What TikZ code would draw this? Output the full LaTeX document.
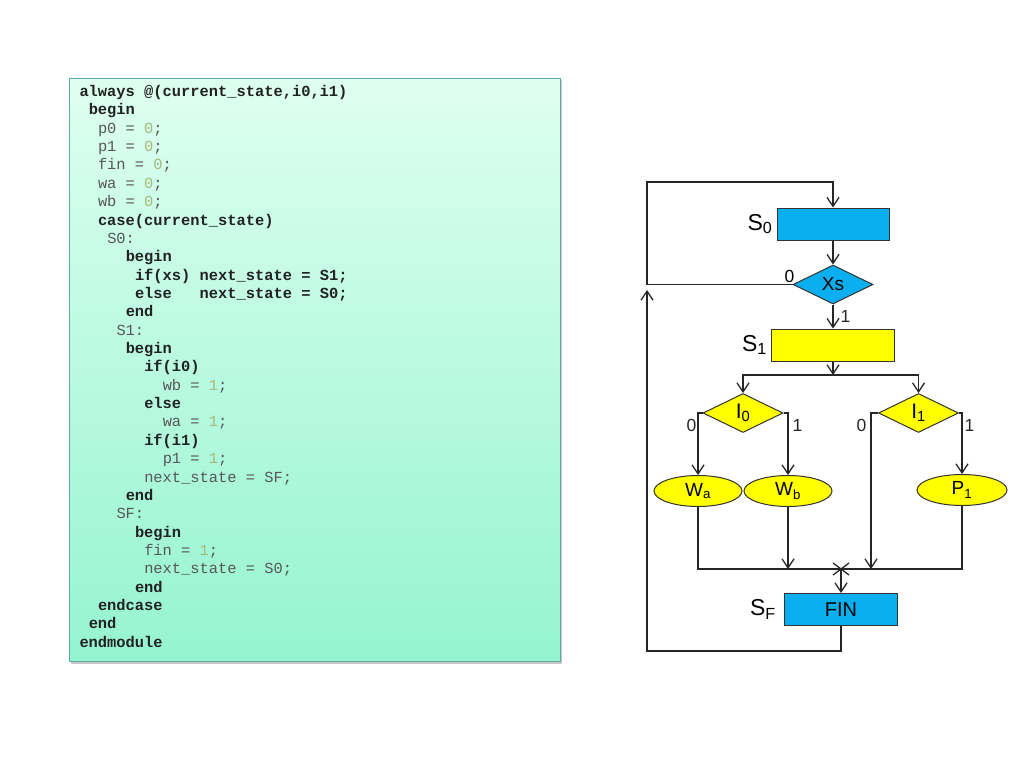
\documentclass[tikz,border=0pt]{standalone}
\usepackage{fontspec}
\setmainfont{Liberation Sans}
\newfontfamily\codefont{Liberation Mono}
\usepackage{xcolor}
\usetikzlibrary{positioning, arrows.meta, shapes.geometric}

\definecolor{stblue}{HTML}{0BAFF0}
\definecolor{styellow}{HTML}{FFFF00}
\definecolor{codetop}{HTML}{DEFFF1}
\definecolor{codebot}{HTML}{95F4D2}
\definecolor{codeedge}{HTML}{5FAAA2}
\definecolor{codegray}{HTML}{575757}
\definecolor{kwcol}{HTML}{222222}
\definecolor{numcol}{HTML}{A7B978}

\newcommand\kw[1]{{\bfseries\color{kwcol}#1}}
\newcommand\nm[1]{\textcolor{numcol}{#1}}

\begin{document}
\begin{tikzpicture}[x=1pt, y=-1pt,
    codeline/.style={anchor=base west, inner sep=0pt, text=codegray,
        font=\codefont\fontsize{15.4}{18}\selectfont},
    stbox/.style={draw=black!80, line width=1pt, minimum height=32pt, inner sep=0pt},
    decis/.style={diamond, draw=black!80, line width=1pt, fill=#1, aspect=2,
        minimum width=80pt, minimum height=39pt, inner sep=0pt},
    oval/.style={ellipse, draw=black!80, line width=1pt, fill=styellow,
        minimum height=31pt, inner sep=0pt, font=\fontsize{19}{21}\selectfont},
    stlab/.style={anchor=east, inner sep=0pt, font=\fontsize{23}{25}\selectfont},
    bit/.style={inner sep=0pt, font=\fontsize{17.5}{19}\selectfont},
    flow/.style={line width=1.3pt, black!85},
    arr/.style={flow, -{Straight Barb[length=9pt, width=12pt]}}]
    \useasboundingbox[fill=white] (0,0) rectangle (1024,768);

    % code panel
    \fill[black!22] (71,80) rectangle (562,664);
    \shade[top color=codetop, bottom color=codebot, draw=codeedge, line width=1pt]
        (69,78) rectangle (560,661);
    \foreach \c/\t [count=\i] in {
        0/{\kw{always @(current\_state,i0,i1)}}, 1/\kw{begin},
        2/{p0 = \nm{0};}, 2/{p1 = \nm{0};}, 2/{fin = \nm{0};},
        2/{wa = \nm{0};}, 2/{wb = \nm{0};}, 2/\kw{case(current\_state)},
        3/S0:, 5/\kw{begin},
        6/{\kw{if(xs) next\_state = S1;}}, 6/{\kw{else\ \ \ next\_state = S0;}},
        5/\kw{end}, 4/S1:, 5/\kw{begin},
        7/\kw{if(i0)}, 9/{wb = \nm{1};}, 7/\kw{else}, 9/{wa = \nm{1};},
        7/\kw{if(i1)}, 9/{p1 = \nm{1};}, 7/{next\_state = SF;},
        5/\kw{end}, 4/SF:, 6/\kw{begin},
        7/{fin = \nm{1};}, 7/{next\_state = S0;}, 6/\kw{end},
        2/\kw{endcase}, 1/\kw{end}, 0/\kw{endmodule}}
        \node[codeline] (ln\i) at ({79.3+\c*9.25}, {96.5+(\i-1)*18.36}) {\t};

    % flow chart
    \node[stbox, fill=stblue, minimum width=112pt] (s0) at (833,224) {};
    \node[decis=stblue, font=\fontsize{19}{21}\selectfont] (xs) at (833,284.5) {Xs};
    \node[stbox, fill=styellow, minimum width=123pt] (s1) at (833,345) {};
    \node[decis=styellow, font=\fontsize{21}{23}\selectfont] (i0) at (743,413) {I\textsubscript{0}};
    \node[decis=styellow, font=\fontsize{21}{23}\selectfont] (i1) at (918.5,413) {I\textsubscript{1}};
    \node[oval, minimum width=88pt] (wa) at (698,491) {W\textsubscript{a}};
    \node[oval, minimum width=88pt] (wb) at (788,491) {W\textsubscript{b}};
    \node[oval, minimum width=90pt] (p1) at (962,490) {P\textsubscript{1}};
    \node[stbox, fill=stblue, minimum width=113pt, font=\fontsize{20}{22}\selectfont]
        (fin) at (841,609.5) {FIN};

    \node[stlab] (s0lab) at ([xshift=-4pt]s0.west) {S\textsubscript{0}};
    \node[stlab] (s1lab) at ([xshift=-4pt]s1.west) {S\textsubscript{1}};
    \node[stlab] (sflab) at ([xshift=-8pt]fin.west) {S\textsubscript{F}};

    \coordinate (ltop) at (647,182);
    \coordinate (jn) at (833,375);
    \coordinate (jb) at (871,569);
    \coordinate (mg) at (841,569);
    \coordinate (lbot) at (647,651);
    \coordinate (lret) at (647,290);

    \draw[arr] (s0.south) -- (xs.north);
    \draw[arr] (xs.west) -| (ltop) -| (s0.north);
    \node[bit, anchor=south east] at ([xshift=2pt, yshift=1.5pt]xs.west) {0};
    \draw[arr] (xs.south) -- node[bit, right=7pt] {1} (s1.north);
    \draw[arr] (s1.south) -- (jn);
    \draw[arr] (jn) -| (i0.north);
    \draw[arr] (jn) -| (i1.north);
    \draw[arr] (i0.west) -| node[bit, pos=0.6, left=1pt] {0} (wa.north);
    \draw[arr] (i0.east) -| node[bit, pos=0.6, right=4pt] {1} (wb.north);
    \draw[arr] (i1.west) -| node[bit, pos=0.54, left=4pt] {0} (jb);
    \draw[arr] (i1.east) -| node[bit, pos=0.6, right=2pt] {1} (p1.north);
    \draw[flow] (wa.south) |- (mg) -| (p1.south);
    \draw[arr] (wb.south) -- (wb.south |- mg);
    \draw[flow] (mg) +(-8,-6) -- +(8,6) (mg) +(8,-6) -- +(-8,6);
    \draw[arr] (mg) -- (fin.north);
    \draw[arr] (fin.south) |- (lbot) -- (lret);
\end{tikzpicture}
\end{document}
